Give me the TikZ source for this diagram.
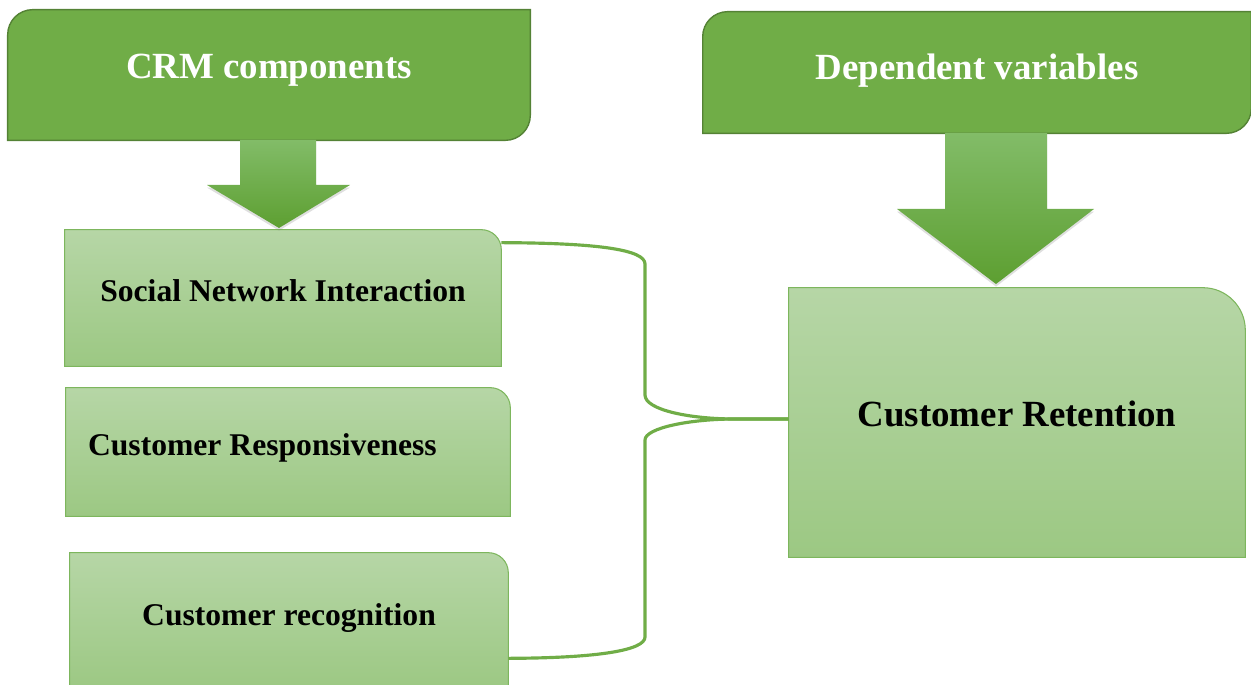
\documentclass[tikz,border=0pt]{standalone}
\usepackage{fontspec}
\setmainfont{Liberation Serif}
\usepackage{tikz}
\usetikzlibrary{positioning, backgrounds, shadows}
\definecolor{headgreen}{RGB}{112, 173, 71}
\definecolor{headborder}{RGB}{84, 130, 53}
\definecolor{boxtop}{RGB}{182, 214, 166}
\definecolor{boxbottom}{RGB}{156, 200, 131}
\definecolor{boxborder}{RGB}{125, 182, 93}
\definecolor{arrowtop}{RGB}{130, 188, 104}
\definecolor{arrowbottom}{RGB}{93, 159, 49}

\begin{document}
\begin{tikzpicture}[
    x=0.02cm, y=-0.02cm,
    header/.style={inner sep=0pt, text=white, font=\bfseries\fontsize{21}{25}\selectfont, text height=12pt, text depth=8pt},
    factor/.style={inner sep=0pt, font=\bfseries\fontsize{18}{22}\selectfont, text height=12pt, text depth=8pt},
    outcome/.style={inner sep=0pt, font=\bfseries\fontsize{21}{25}\selectfont, text height=12pt, text depth=8pt},
    headshape/.style={fill=headgreen, draw=headborder, line width=0.8pt},
    boxshape/.style={top color=boxtop, bottom color=boxbottom, draw=boxborder, line width=0.6pt},
    blockarrow/.style={top color=arrowtop, bottom color=arrowbottom, drop shadow={shadow xshift=0pt, shadow yshift=-1.5pt, opacity=0.25}},
    link/.style={draw=headgreen, line width=1.8pt}
]
    \useasboundingbox (0,0) rectangle (1251,685);

    % Headings
    \node[header, minimum width=10.44cm, minimum height=2.6cm] (crm) at (269,75) {CRM components};
    \node[header, text depth=4pt, minimum width=10.96cm, minimum height=2.42cm] (dep) at (977,72.5) {Dependent variables};

    % Components
    \node[factor, minimum width=8.72cm, minimum height=2.72cm] (social) at (283,298) {Social Network Interaction};
    \node[factor, text width=8cm, align=flush left, inner xsep=0.44cm, minimum height=2.56cm] (respons) at (288,452) {Customer Responsiveness};
    \node[factor, minimum width=8.76cm, minimum height=2.74cm] (recog) at (289,621.5) {Customer recognition};

    % Dependent variable
    \node[outcome, minimum width=9.12cm, minimum height=5.38cm] (retention) at (1017,422.5) {Customer Retention};

    % Box outlines
    \begin{scope}[on background layer]
        \draw[headshape] (crm.south west) [rounded corners=0.5cm] -- (crm.north west) [sharp corners] -- (crm.north east) [rounded corners=0.5cm] -- (crm.south east) [sharp corners] -- cycle;
        \draw[headshape] (dep.south west) [rounded corners=0.5cm] -- (dep.north west) [sharp corners] -- (dep.north east) [rounded corners=0.5cm] -- (dep.south east) [sharp corners] -- cycle;
        \shadedraw[boxshape] (social.south west) -- (social.north west) [rounded corners=0.4cm] -- (social.north east) [sharp corners] -- (social.south east) -- cycle;
        \shadedraw[boxshape] (respons.south west) -- (respons.north west) [rounded corners=0.4cm] -- (respons.north east) [sharp corners] -- (respons.south east) -- cycle;
        \shadedraw[boxshape] (recog.south west) -- (recog.north west) [rounded corners=0.4cm] -- (recog.north east) [sharp corners] -- (recog.south east) -- cycle;
        \shadedraw[boxshape] (retention.south west) -- (retention.north west) [rounded corners=0.85cm] -- (retention.north east) [sharp corners] -- (retention.south east) -- cycle;
    \end{scope}

    % Block arrows
    \shade[blockarrow] (240,140) -- (240,185) -- (207,185) -- (279,228) -- (350,185) -- (316,185) -- (316,140) -- cycle;
    \shade[blockarrow] (945,133) -- (945,209) -- (897,209) -- (996,284) -- (1094,209) -- (1047,209) -- (1047,133) -- cycle;

    % Bracket to retention
    \coordinate (join) at ([yshift=0.07cm]retention.west);
    \draw[link] ([yshift=-0.26cm]social.north east) .. controls (600,243) and (645,250) .. (645,264) -- (645,395) .. controls (645,410) and (690,419) .. (735,419) -- (join);
    \draw[link] ([yshift=0.64cm]recog.south east) .. controls (600,658) and (645,650) .. (645,637) -- (645,440) .. controls (645,428) and (690,419) .. (735,419) -- (join);

\end{tikzpicture}
\end{document}
